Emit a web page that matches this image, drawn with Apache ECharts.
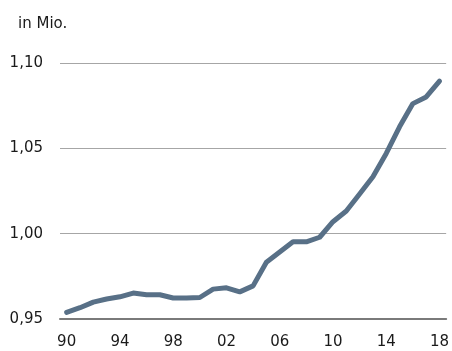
<!DOCTYPE html>
<html>
<head>
<meta charset="utf-8">
<script src="https://cdn.jsdelivr.net/npm/echarts@6/dist/echarts.min.js"></script>
<style>
  html, body { margin: 0; padding: 0; background: #fff; }
  #chart { width: 452px; height: 351px; }
</style>
</head>
<body>
<div id="chart"></div>
<script>
// Years 1990–2018 (category axis)
const years = [1990, 1991, 1992, 1993, 1994, 1995, 1996, 1997, 1998, 1999,
               2000, 2001, 2002, 2003, 2004, 2005, 2006, 2007, 2008, 2009,
               2010, 2011, 2012, 2013, 2014, 2015, 2016, 2017, 2018];
// Values in millions
const values = [0.9539, 0.9566, 0.9599, 0.9617, 0.9630, 0.9652, 0.9642, 0.9642, 0.9623, 0.9623,
                0.9626, 0.9675, 0.9683, 0.9659, 0.9694, 0.9833, 0.9893, 0.9952, 0.9952, 0.9979,
                1.0070, 1.0133, 1.0232, 1.0333, 1.0470, 1.0626, 1.0762, 1.0801, 1.0894];
const yMin = 0.95, yMax = 1.10, yStep = 0.05;
const unitLabel = 'in Mio.';

const chart = echarts.init(document.getElementById('chart'));
const font = '"DejaVu Sans", Arial, sans-serif';

chart.setOption({
  animation: false,
  backgroundColor: '#ffffff',
  title: {
    text: unitLabel,
    left: 13, top: 12,
    textStyle: { fontFamily: font, fontSize: 15, fontWeight: 'normal', color: '#1a1a1a' }
  },
  grid: { left: 60, right: 3, top: 63, bottom: 32, containLabel: false },
  xAxis: {
    type: 'category',
    data: years.map(String),
    boundaryGap: true,
    axisLine: { show: true, lineStyle: { color: '#7a7a7a', width: 2 } },
    axisTick: { show: false },
    axisLabel: {
      interval: 3,
      margin: 16,
      fontFamily: font, fontSize: 15, color: '#1a1a1a',
      formatter: v => v.slice(2)
    },
    splitLine: { show: false }
  },
  yAxis: {
    type: 'value',
    min: yMin, max: yMax, interval: yStep,
    axisLine: { show: false },
    axisTick: { show: false },
    axisLabel: {
      margin: 17,
      fontFamily: font, fontSize: 15, color: '#1a1a1a',
      formatter: v => v.toFixed(2).replace('.', ',')
    },
    splitLine: { show: true, lineStyle: { color: '#a6a6a6', width: 1 } }
  },
  series: [{
    type: 'line',
    data: values,
    symbol: 'none',
    lineStyle: { color: '#587087', width: 5, cap: 'round', join: 'round' }
  }]
});
</script>
</body>
</html>
